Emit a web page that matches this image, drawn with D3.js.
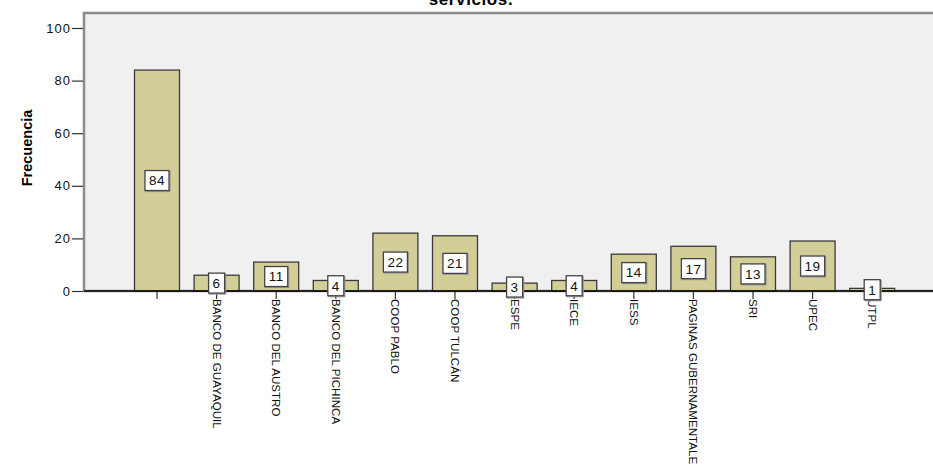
<!DOCTYPE html>
<html>
<head>
<meta charset="utf-8">
<script src="https://cdn.jsdelivr.net/npm/d3@7"></script>
<style>
  html, body { margin: 0; padding: 0; background: #ffffff; }
  svg { display: block; }
</style>
</head>
<body>
<svg id="chart" width="933" height="464"></svg>
<script>
const categories = ["", "BANCO DE GUAYAQUIL", "BANCO DEL AUSTRO", "BANCO DEL PICHINCA", "COOP PABLO", "COOP TULCÁN", "ESPE", "IECE", "IESS", "PAGINAS GUBERNAMENTALES", "SRI", "UPEC", "UTPL"];
const frecuencia = [84, 6, 11, 4, 22, 21, 3, 4, 14, 17, 13, 19, 1];
const yTicks = [0, 20, 40, 60, 80, 100];
const titleText = "servicios.";
const yLabel = "Frecuencia";

const svg = d3.select("#chart");
const frameLeft = 84, frameTop = 13, frameRight = 945, axisY = 291;

const x = d3.scaleBand().domain(categories).range([127.2, 902.0]).paddingInner(0.245).paddingOuter(0.1225);
const y = d3.scaleLinear().domain([0, 100]).range([axisY, 28]);

// title (partially cut off at top, as in the reference)
svg.append("text").attr("x", 471).attr("y", 5)
  .attr("text-anchor", "middle")
  .attr("font-family", "Liberation Sans, Arial, sans-serif")
  .attr("font-weight", "bold").attr("font-size", 17)
  .attr("letter-spacing", 0.6)
  .text(titleText);

// plot background and frame
svg.append("rect").attr("x", frameLeft).attr("y", frameTop)
  .attr("width", frameRight - frameLeft).attr("height", axisY - frameTop)
  .attr("fill", "#f0f0f0").attr("stroke", "#8c8c8c").attr("stroke-width", 2.5);

// bars
svg.append("g").selectAll("rect").data(categories).join("rect")
  .attr("x", d => x(d)).attr("width", x.bandwidth())
  .attr("y", (d, i) => y(frecuencia[i]))
  .attr("height", (d, i) => y(0) - y(frecuencia[i]))
  .attr("fill", "#d3ce97").attr("stroke", "#3a3a3a").attr("stroke-width", 1.3);

// x axis
const xAxis = svg.append("g").attr("transform", `translate(0,${axisY})`)
  .call(d3.axisBottom(x).tickSize(8).tickSizeOuter(0).tickFormat(""));
xAxis.select(".domain").remove();
xAxis.selectAll(".tick line").attr("stroke", "#333").attr("stroke-width", 1.2);
svg.append("line").attr("x1", frameLeft).attr("x2", 933).attr("y1", axisY).attr("y2", axisY)
  .attr("stroke", "#000").attr("stroke-width", 1.3);

// x labels rotated
svg.append("g").selectAll("text").data(categories).join("text")
  .attr("transform", d => `translate(${x(d) + x.bandwidth() / 2},${axisY + 8}) rotate(90)`)
  .attr("dy", "0.35em")
  .attr("font-family", "Liberation Sans, Arial, sans-serif")
  .attr("font-size", 11.6)
  .attr("fill", "#111")
  .text(d => d);

// y axis
const yAxis = svg.append("g").attr("transform", `translate(${frameLeft - 1},0)`)
  .call(d3.axisLeft(y).tickValues(yTicks).tickSize(11).tickPadding(1));
yAxis.select(".domain").remove();
yAxis.selectAll(".tick line").attr("stroke", "#333").attr("stroke-width", 1.2);
yAxis.selectAll(".tick text")
  .attr("font-family", "Liberation Sans, Arial, sans-serif")
  .attr("font-size", 13).attr("letter-spacing", 1).attr("fill", "#111");

// y label
svg.append("text").attr("transform", "translate(27,148) rotate(-90)")
  .attr("text-anchor", "middle").attr("dy", "0.35em")
  .attr("font-family", "Liberation Sans, Arial, sans-serif")
  .attr("font-weight", "bold").attr("font-size", 14.5)
  .text(yLabel);

// data labels
const lab = svg.append("g").selectAll("g").data(categories).join("g")
  .attr("transform", (d, i) => `translate(${x(d) + x.bandwidth() / 2},${(y(frecuencia[i]) + y(0)) / 2})`);
lab.append("rect").attr("class", "shadow");
lab.append("rect").attr("class", "box");
lab.append("text")
  .attr("text-anchor", "middle").attr("dy", "0.36em")
  .attr("font-family", "Liberation Sans, Arial, sans-serif")
  .attr("font-size", 13.5).attr("letter-spacing", 0.5).attr("fill", "#111")
  .text((d, i) => frecuencia[i]);
lab.each(function () {
  const g = d3.select(this);
  const w = g.select("text").node().getComputedTextLength() + 8;
  g.select("rect.shadow").attr("x", -w / 2 + 1).attr("y", -9).attr("width", w).attr("height", 20)
    .attr("fill", "none").attr("stroke", "#9a9a9a").attr("stroke-width", 1.2);
  g.select("rect.box").attr("x", -w / 2).attr("y", -10).attr("width", w).attr("height", 20)
    .attr("fill", "#fff").attr("stroke", "#444").attr("stroke-width", 1.3);
});
</script>
</body>
</html>
